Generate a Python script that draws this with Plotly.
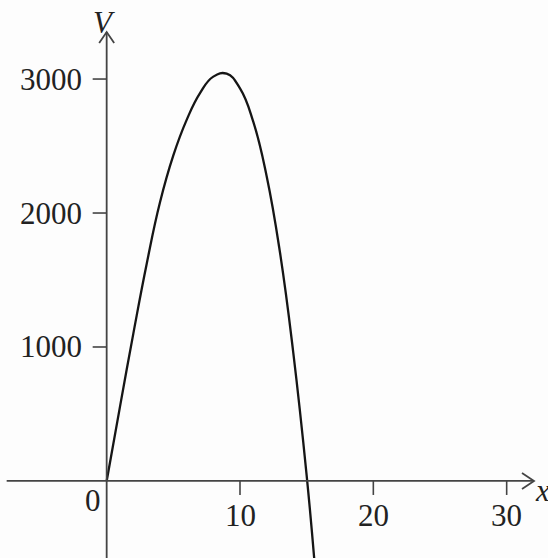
import plotly.graph_objects as go

# Values
x_vals = [0, 1, 2, 3, 4, 5, 6, 7, 8, 9, 10, 11, 12, 13, 14, 15, 15.6]
v_vals = [0, 555, 1100, 1620, 2080, 2430, 2695, 2895, 3018, 3040, 2930,
          2680, 2275, 1705, 955, 40, -620]

x_ticks = [10, 20, 30]
x_tick_labels = ["10", "20", "30"]
y_ticks = [1000, 2000, 3000]
y_tick_labels = ["1000", "2000", "3000"]

AX = "#444444"
FONT = "Liberation Serif, Times New Roman, serif"
FS = 31

fig = go.Figure()
fig.add_trace(go.Scatter(x=x_vals, y=v_vals, mode="lines",
                         line=dict(color="#151515", width=2.3, shape="spline", smoothing=1.3),
                         hoverinfo="skip", showlegend=False))

shapes = []
# axes
shapes.append(dict(type="line", xref="x", yref="y", x0=-7.5, x1=32.05, y0=0, y1=0,
                   line=dict(color=AX, width=1.8)))
shapes.append(dict(type="line", xref="x", yref="y", x0=0, x1=0, y0=-700, y1=3351,
                   line=dict(color=AX, width=1.8)))
# arrow heads
shapes.append(dict(type="path", xref="x", yref="y", xsizemode="pixel", ysizemode="pixel",
                   xanchor=32.05, yanchor=0, path="M-12,8 L0,0 L-12,-8",
                   line=dict(color=AX, width=1.8)))
shapes.append(dict(type="path", xref="x", yref="y", xsizemode="pixel", ysizemode="pixel",
                   xanchor=0, yanchor=3351, path="M-7.5,-11 L0,0 L7.5,-11",
                   line=dict(color=AX, width=1.8)))
# tick marks
for t in x_ticks:
    shapes.append(dict(type="line", xref="x", yref="y", ysizemode="pixel", yanchor=0,
                       x0=t, x1=t, y0=0, y1=-14, line=dict(color=AX, width=1.6)))
for t in y_ticks:
    shapes.append(dict(type="line", xref="x", yref="y", xsizemode="pixel", xanchor=0,
                       x0=-14, x1=0, y0=t, y1=t, line=dict(color=AX, width=1.6)))

annotations = []
for t, lab in zip(x_ticks, x_tick_labels):
    annotations.append(dict(x=t, y=0, xref="x", yref="y", text=lab, showarrow=False,
                            xanchor="center", yanchor="middle", yshift=-35,
                            font=dict(family=FONT, size=FS, color="#222")))
annotations.append(dict(x=0, y=0, xref="x", yref="y", text="0", showarrow=False,
                        xanchor="center", yanchor="middle", xshift=-14, yshift=-20,
                        font=dict(family=FONT, size=FS, color="#222")))
for t, lab in zip(y_ticks, y_tick_labels):
    annotations.append(dict(x=0, y=t, xref="x", yref="y", text=lab, showarrow=False,
                            xanchor="right", yanchor="middle", xshift=-23,
                            font=dict(family=FONT, size=FS, color="#222")))
annotations.append(dict(x=0, y=3351, xref="x", yref="y", text="<i>V</i>", showarrow=False,
                        xanchor="center", yanchor="middle", xshift=-3, yshift=10,
                        font=dict(family=FONT, size=FS, color="#222")))
annotations.append(dict(x=32.05, y=0, xref="x", yref="y", text="<i>x</i>", showarrow=False,
                        xanchor="left", yanchor="middle", xshift=-1, yshift=-10,
                        font=dict(family=FONT, size=FS, color="#222")))

fig.update_layout(
    width=548, height=558, autosize=False,
    margin=dict(l=0, r=0, t=0, b=0),
    paper_bgcolor="#fdfdfd", plot_bgcolor="#fdfdfd",
    xaxis=dict(range=[-8.0, 33.1], visible=False, fixedrange=True),
    yaxis=dict(range=[-575, 3590], visible=False, fixedrange=True),
    shapes=shapes, annotations=annotations, showlegend=False,
)

fig.write_html("out.html", config={"displayModeBar": False})

# remove the default page margin so the figure fills the window exactly
with open("out.html", "r", encoding="utf-8") as f:
    html = f.read()
html = html.replace("<body>", '<body style="margin:0;padding:0;overflow:hidden;background:#fdfdfd">', 1)
with open("out.html", "w", encoding="utf-8") as f:
    f.write(html)
